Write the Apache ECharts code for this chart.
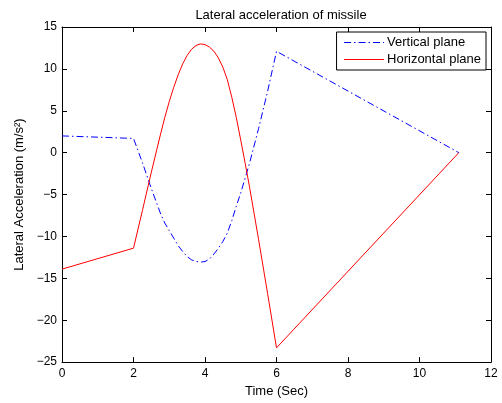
<!DOCTYPE html>
<html>
<head>
<meta charset="utf-8">
<script src="https://cdn.jsdelivr.net/npm/echarts@6/dist/echarts.min.js"></script>
<style>
html, body { margin: 0; padding: 0; background: #fff; }
#chart { width: 502px; height: 403px; }
</style>
</head>
<body>
<div id="chart"></div>
<script>
// values
var verticalTime = [0, 2, 2.25, 2.5, 2.75, 2.875, 3, 3.125, 3.25, 3.375, 3.5, 3.625, 3.75, 3.9, 4, 4.125, 4.25, 4.375, 4.5, 4.625, 4.75, 4.875, 5, 5.25, 5.5, 5.75, 6, 11.1];
var verticalAcc  = [2.0, 1.7, -1.2, -4.3, -7.2, -8.4, -9.3, -10.2, -11.1, -11.8, -12.4, -12.8, -13.0, -13.05, -13.0, -12.7, -12.1, -11.4, -10.6, -9.6, -8.1, -6.4, -4.8, -1.2, 2.9, 7.3, 12.1, 0];

var horizontalTime = [0, 2, 2.25, 2.5, 2.75, 2.875, 3, 3.125, 3.25, 3.375, 3.5, 3.625, 3.75, 3.875, 4, 4.125, 4.25, 4.375, 4.5, 4.625, 4.75, 4.875, 5, 5.125, 5.25, 5.375, 5.5, 5.75, 6, 11.1];
var horizontalAcc  = [-13.9, -11.4, -6.9, -2.3, 2.1, 4.2, 6.1, 7.8, 9.3, 10.6, 11.6, 12.35, 12.8, 12.98, 12.9, 12.6, 12.1, 11.3, 10.2, 8.7, 6.6, 4.2, 1.5, -1.3, -4.2, -7.3, -10.4, -16.8, -23.3, 0];

var xTicks = [0, 12, 2];
var yTicks = [-25, 15, 5];

function pairs(xs, ys) {
	var out = [];
	for (var i = 0; i < xs.length; i++) out.push([xs[i], ys[i]]);
	return out;
}

var font = 'Liberation Sans';
var chart = echarts.init(document.getElementById('chart'));

function xAx(pos, main) {
	return {
		type: 'value', position: pos, min: xTicks[0], max: xTicks[1], interval: xTicks[2],
		name: main ? 'Time (Sec)' : '', nameLocation: 'middle', nameGap: 20,
		nameTextStyle: { fontFamily: font, fontSize: 13, color: '#000' },
		axisLine: { show: true, onZero: false, lineStyle: { color: '#000', width: 1 } },
		axisTick: { show: true, inside: true, length: 5, lineStyle: { color: '#000' } },
		axisLabel: { show: main, fontFamily: font, fontSize: 12, color: '#000', margin: 6 },
		splitLine: { show: false }
	};
}
function yAx(pos, main) {
	return {
		type: 'value', position: pos, min: yTicks[0], max: yTicks[1], interval: yTicks[2],
		name: main ? 'Lateral Acceleration (m/s\u00B2)' : '', nameLocation: 'middle', nameGap: 30,
		nameTextStyle: { fontFamily: font, fontSize: 13, color: '#000' },
		axisLine: { show: true, onZero: false, lineStyle: { color: '#000', width: 1 } },
		axisTick: { show: true, inside: true, length: 5, lineStyle: { color: '#000' } },
		axisLabel: {
			show: main, fontFamily: font, fontSize: 12, color: '#000', margin: 5,
			formatter: function (v) { return v < 0 ? '\u2212' + Math.abs(v) : '' + v; }
		},
		splitLine: { show: false }
	};
}

var option = {
	backgroundColor: '#fff',
	animation: false,
	title: {
		text: 'Lateral acceleration of missile',
		left: 276, top: 4, textAlign: 'center',
		textStyle: { fontFamily: font, fontSize: 13, fontWeight: 'normal', color: '#000' }
	},
	grid: { left: 62, right: 11, top: 27, bottom: 39 },
	legend: {
		right: 16, top: 32, orient: 'vertical',
		backgroundColor: '#fff', borderColor: '#000', borderWidth: 1, borderRadius: 0,
		padding: [4, 5, 4, 7], itemGap: 4, itemWidth: 40, itemHeight: 10,
		itemStyle: { opacity: 0 },
		lineStyle: { width: 1 },
		textStyle: { fontFamily: font, fontSize: 13, color: '#000', padding: [0, 0, 0, -2] },
		data: ['Vertical plane', 'Horizontal plane']
	},
	xAxis: [xAx('bottom', true), xAx('top', false)],
	yAxis: [yAx('left', true), yAx('right', false)],
	series: [
		{
			name: 'Vertical plane', type: 'line', xAxisIndex: 0, yAxisIndex: 0,
			data: pairs(verticalTime, verticalAcc),
			symbol: 'none', showSymbol: false,
			lineStyle: { color: '#0000ff', width: 1, type: [7, 3, 1.5, 3] },
			itemStyle: { color: '#0000ff' }
		},
		{
			name: 'Horizontal plane', type: 'line', xAxisIndex: 0, yAxisIndex: 0,
			data: pairs(horizontalTime, horizontalAcc),
			symbol: 'none', showSymbol: false,
			lineStyle: { color: '#ff0000', width: 1 },
			itemStyle: { color: '#ff0000' }
		}
	]
};

option && chart.setOption(option);
</script>
</body>
</html>
